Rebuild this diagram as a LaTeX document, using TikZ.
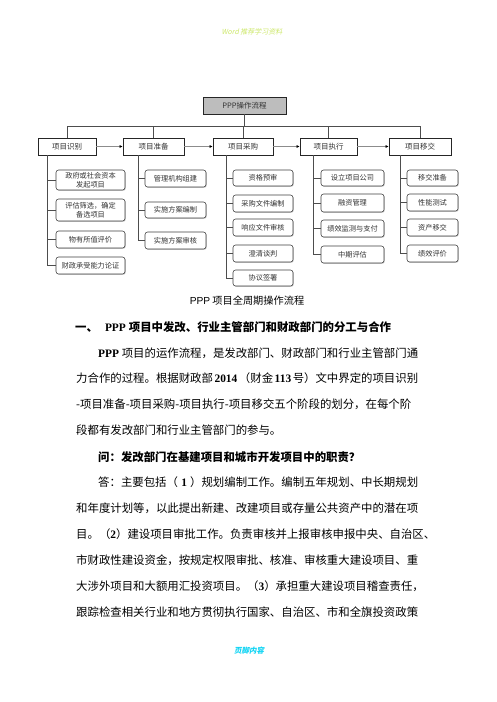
\documentclass[tikz,border=0pt]{standalone}
\usepackage{fontspec}
\setmainfont{Liberation Serif}
\newfontfamily\cjk{Noto Sans CJK SC}
\newfontfamily\cjkslant{Noto Sans CJK SC}[FakeSlant=0.2]
\newfontfamily\lsans{Liberation Sans}
\usetikzlibrary{arrows.meta,shadows}
\definecolor{linegray}{HTML}{4D4D4D}
\definecolor{arrgray}{HTML}{8C8C8C}
\definecolor{titlegray}{HTML}{BDBDBD}
\definecolor{boxtext}{HTML}{333333}
\definecolor{headcol}{HTML}{CDE86A}
\definecolor{footcol}{HTML}{10D4F4}
\newcommand\lb[1]{{\rmfamily\bfseries #1}}
\begin{document}
\begin{tikzpicture}[x=1pt,y=-1pt,
  stagebox/.style={draw=black!85, line width=0.6pt, fill=white, inner sep=0pt, minimum height=17pt, text=boxtext, font=\cjk\fontsize{7.5}{9}\selectfont},
  subbox/.style={draw=black!75, line width=0.55pt, rounded corners=2.5pt, fill=white, inner sep=0pt, align=center, text=boxtext, font=\cjk\fontsize{7.2}{8.6}\selectfont, drop shadow={shadow xshift=0.7pt, shadow yshift=-0.7pt, fill=black!45, opacity=0.6}},
  conn/.style={draw=linegray, line width=0.6pt},
  flow/.style={draw=arrgray, line width=0.9pt, -{Latex[length=3.2pt,width=3.2pt,color=black]}},
  body/.style={anchor=base west, inner sep=0pt, font=\cjk\fontsize{11.4}{13}\selectfont},
]
\fill[white] (0,0) rectangle (496,702);
\useasboundingbox (0,0) rectangle (496,702);

% header / footer
\node[font=\cjkslant\fontsize{7}{8}\selectfont, text=headcol] (hdr) at (252,32) {Word 推荐学习资料};
\node[font=\cjkslant\bfseries\fontsize{7.5}{8}\selectfont, text=footcol] (ftr) at (249,651) {页脚内容};

% title and stages
\node[stagebox, fill=titlegray, minimum width=83pt] (title) at (244.5,105.5) {PPP操作流程};
\node[stagebox, minimum width=58pt] (s1) at (67,146.5) {项目识别};
\node[stagebox, minimum width=61pt] (s2) at (153.5,146.5) {项目准备};
\node[stagebox, minimum width=60pt] (s3) at (243,146.5) {项目采购};
\node[stagebox, minimum width=57pt] (s4) at (328.5,146.5) {项目执行};
\node[stagebox, minimum width=62pt] (s5) at (420,146.5) {项目移交};

\coordinate (bus) at (0,126);
\draw[conn] (s1.north) -- (s1.north |- bus) -- (s5.north |- bus) -- (s5.north);
\foreach \s in {s2,s3,s4} \draw[conn] (\s.north) -- (\s.north |- bus);
\draw[conn] (title.south) -- (title.south |- bus);

\draw[flow] (s1.east) -- (s2.west);
\draw[flow] (s2.east) -- (s3.west);
\draw[flow] (s3.east) -- (s4.west);
\draw[flow] (s4.east) -- (s5.west);

% column 1
\node[subbox, minimum width=69pt, minimum height=20pt] (c11) at (90.5,180) {政府或社会资本\\发起项目};
\node[subbox, minimum width=69pt, minimum height=22pt] (c12) at (90.5,210) {评估筛选，确定\\备选项目};
\node[subbox, minimum width=69pt, minimum height=17pt] (c13) at (90.5,239.5) {物有所值评价};
\node[subbox, minimum width=69pt, minimum height=17pt] (c14) at (90.5,265.5) {财政承受能力论证};
% column 2
\node[subbox, minimum width=61pt, minimum height=17pt] (c21) at (175.5,178.5) {管理机构组建};
\node[subbox, minimum width=61pt, minimum height=16pt] (c22) at (175.5,210) {实施方案编制};
\node[subbox, minimum width=61pt, minimum height=17pt] (c23) at (175.5,240.5) {实施方案审核};
% column 3
\node[subbox, minimum width=60pt, minimum height=16pt] (c31) at (263,178) {资格预审};
\node[subbox, minimum width=60pt, minimum height=17pt] (c32) at (263,203.5) {采购文件编制};
\node[subbox, minimum width=60pt, minimum height=17pt] (c33) at (263,227.5) {响应文件审核};
\node[subbox, minimum width=60pt, minimum height=17pt] (c34) at (263,253.5) {澄清谈判};
\node[subbox, minimum width=60pt, minimum height=16pt] (c35) at (263,278) {协议签署};
% column 4
\node[subbox, minimum width=63pt, minimum height=16pt] (c41) at (352.5,178) {设立项目公司};
\node[subbox, minimum width=63pt, minimum height=18pt] (c42) at (352.5,203) {融资管理};
\node[subbox, minimum width=63pt, minimum height=17pt] (c43) at (352.5,228.5) {绩效监测与支付};
\node[subbox, minimum width=63pt, minimum height=17pt] (c44) at (352.5,254.5) {中期评估};
% column 5
\node[subbox, minimum width=51pt, minimum height=16pt] (c51) at (432.5,178) {移交准备};
\node[subbox, minimum width=51pt, minimum height=17pt] (c52) at (432.5,202.5) {性能测试};
\node[subbox, minimum width=51pt, minimum height=17pt] (c53) at (432.5,227.5) {资产移交};
\node[subbox, minimum width=51pt, minimum height=17pt] (c54) at (432.5,253.5) {绩效评价};

\coordinate (t1) at (47,155);
\coordinate (t2) at (138,155);
\coordinate (t3) at (226,155);
\coordinate (t4) at (313,155);
\coordinate (t5) at (400,155);
\foreach \c in {c11,c12,c13,c14} \draw[conn] (t1) |- (\c.west);
\foreach \c in {c21,c22,c23} \draw[conn] (t2) |- (\c.west);
\foreach \c in {c31,c32,c33,c34,c35} \draw[conn] (t3) |- (\c.west);
\foreach \c in {c41,c42,c43,c44} \draw[conn] (t4) |- (\c.west);
\foreach \c in {c51,c52,c53,c54} \draw[conn] (t5) |- (\c.west);

% caption
\node[inner sep=0pt, font=\cjk\fontsize{10.2}{12}\selectfont] (cap) at (247,301) {{\lsans PPP} 项目全周期操作流程};

% body text
\node[body, font=\cjk\bfseries\fontsize{11.4}{13}\selectfont] (h1) at (75,331.3) {一、\hspace{7pt}\lb{PPP}\hspace{3pt}项目中发改、行业主管部门和财政部门的分工与合作};
\node[body] (p1) at (98,357.3) {\hbox to 320pt{\lb{PPP}\hfil 项目的运作流程，是发改部门、财政部门和行业主管部门通}};
\node[body] (p2) at (76,382.3) {\hbox to 342pt{力合作的过程。根据财政部\hfil\lb{2014}\hfil（财金\hfil\lb{113}\hfil 号）文中界定的项目识别}};
\node[body] (p3) at (76,408.3) {-项目准备-项目采购-项目执行-项目移交五个阶段的划分，在每个阶};
\node[body] (p4) at (76,434.3) {段都有发改部门和行业主管部门的参与。};
\node[body, font=\cjk\bfseries\fontsize{11.4}{13}\selectfont] (q1) at (98,461.3) {问：发改部门在基建项目和城市开发项目中的职责？};
\node[body] (a1) at (98,486.3) {\hbox to 320pt{答：主要包括（\hfil\lb{1}\hfil）规划编制工作。编制五年规划、中长期规划}};
\node[body] (a2) at (76,512.3) {和年度计划等，以此提出新建、改建项目或存量公共资产中的潜在项};
\node[body] (a3) at (76,538.3) {目。（\lb{2}）建设项目审批工作。负责审核并上报审核申报中央、自治区、};
\node[body] (a4) at (76,564.3) {市财政性建设资金，按规定权限审批、核准、审核重大建设项目、重};
\node[body] (a5) at (76,590.3) {大涉外项目和大额用汇投资项目。（\lb{3}）承担重大建设项目稽查责任，};
\node[body] (a6) at (76,616.3) {跟踪检查相关行业和地方贯彻执行国家、自治区、市和全旗投资政策};
\end{tikzpicture}
\end{document}
